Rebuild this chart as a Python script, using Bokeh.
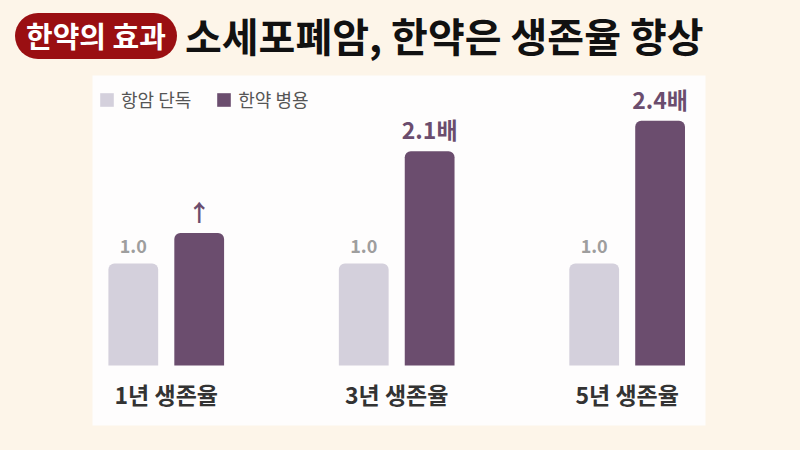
from bokeh.plotting import figure
from bokeh.models import ColumnDataSource, Range1d, Legend, LegendItem, Div
from bokeh.layouts import column
from bokeh.core.properties import value
from bokeh.embed import file_html
from bokeh.resources import INLINE

# --- data -------------------------------------------------------------
categories = ["1년 생존율", "3년 생존율", "5년 생존율"]
series_names = ["항암 단독", "한약 병용"]
chemo_only = [1.0, 1.0, 1.0]
with_herbal = [1.3, 2.1, 2.4]
chemo_labels = ["1.0", "1.0", "1.0"]
herbal_labels = ["↑", "2.1배", "2.4배"]
badge_text = "한약의 효과"
title_text = "소세포폐암, 한약은 생존율 향상"

# --- style ------------------------------------------------------------
BG = "#fdf5e9"
PANEL = "#fefdfd"
RED = "#9a0f12"
GREY = "#d4d0dc"
PURPLE = "#6b4d6e"
FONT_NAME = "Noto Sans CJK KR"
FONT = value(FONT_NAME)

# --- header: badge + headline ----------------------------------------
header_html = (
    f'<div style="display:flex;align-items:center;height:75px;width:800px;'
    f'box-sizing:border-box;padding:0 0 4px 15px;background:{BG};'
    f"font-family:'{FONT_NAME}';\">"
    f'<span style="display:inline-flex;align-items:center;justify-content:center;'
    f'height:46px;width:162px;box-sizing:border-box;border-radius:23px;background:{RED};'
    f'color:#ffffff;font-weight:700;font-size:29px;white-space:nowrap;">{badge_text}</span>'
    f'<span style="margin-left:8px;font-weight:700;font-size:40px;color:#111111;'
    f'white-space:nowrap;">{title_text}</span></div>'
)
header = Div(text=header_html, width=800, height=75, margin=0,
             styles={"background-color": BG})

# --- chart panel ------------------------------------------------------
idx = list(range(len(categories)))
offset = 0.143
bar_w = 0.216
x_grey = [i - offset for i in idx]
x_purple = [i + offset for i in idx]

y_end = max(with_herbal) * 1.185
y_start = -y_end * 60 / 290

p = figure(width=800, height=375, x_range=Range1d(-0.32, 2.34), y_range=Range1d(y_start, y_end),
           x_axis_location=None, y_axis_location=None,
           min_border_left=92, min_border_right=95, min_border_top=0, min_border_bottom=25,
           output_backend="svg", toolbar_location=None, margin=0)
p.grid.visible = False
p.outline_line_color = None
p.background_fill_color = PANEL
p.border_fill_color = BG

src_g = ColumnDataSource(dict(x=x_grey, top=chemo_only, label=chemo_labels))
src_p = ColumnDataSource(dict(x=x_purple, top=with_herbal, label=herbal_labels))

r_g = p.vbar(x="x", top="top", bottom=0, width=bar_w, source=src_g,
             fill_color=GREY, line_color=None, border_radius=(6, 6, 0, 0))
r_p = p.vbar(x="x", top="top", bottom=0, width=bar_w, source=src_p,
             fill_color=PURPLE, line_color=None, border_radius=(6, 6, 0, 0))

p.text(x="x", y="top", text="label", source=src_g, y_offset=-18,
       text_align="center", text_baseline="middle", text_font=FONT,
       text_font_style="bold", text_font_size="18px", text_color="#9e9e9e")
p.text(x="x", y="top", text="label", source=src_p, y_offset=-22,
       text_align="center", text_baseline="middle", text_font=FONT,
       text_font_style="bold", text_font_size="23px", text_color=PURPLE)

p.text(x=idx, y=[0] * len(idx), text=categories, y_offset=28,
       text_align="center", text_baseline="middle", text_font=FONT,
       text_font_style="bold", text_font_size="23px", text_color="#333333")

legend = Legend(items=[LegendItem(label=series_names[0], renderers=[r_g]),
                       LegendItem(label=series_names[1], renderers=[r_p])],
                location=(6, 313), orientation="horizontal")
legend.margin = 0
legend.padding = 0
legend.spacing = 24
legend.glyph_width = 17
legend.glyph_height = 17
legend.label_height = 17
legend.label_standoff = 6
legend.label_text_font = FONT_NAME
legend.label_text_font_size = "18px"
legend.label_text_color = "#555555"
legend.background_fill_alpha = 0
legend.border_line_color = None
p.add_layout(legend)

layout = column(header, p, spacing=0)
layout.styles = {"background-color": BG}

open("out.html", "w").write(file_html(layout, INLINE))
